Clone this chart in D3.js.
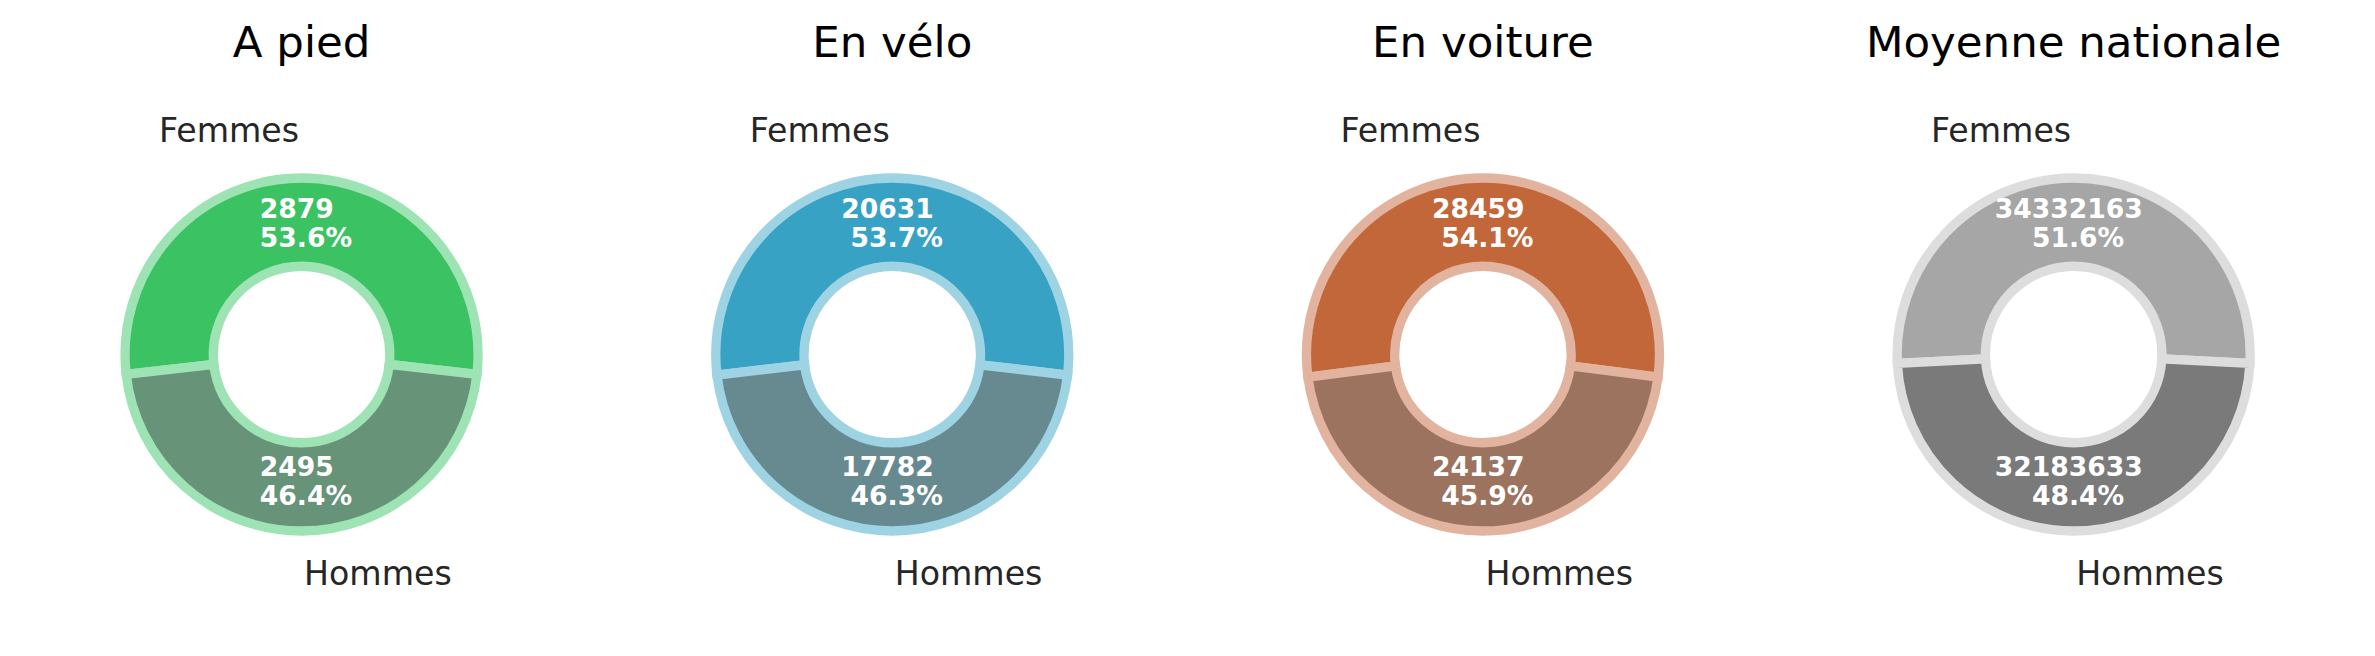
<!DOCTYPE html>
<html>
<head>
<meta charset="utf-8">
<script src="https://cdn.jsdelivr.net/npm/d3@7"></script>
<style>
  html, body { margin: 0; padding: 0; background: #fff; }
  svg { display: block; font-family: "DejaVu Sans", sans-serif; }
</style>
</head>
<body>
<svg id="chart" width="2375" height="656"></svg>
<script>
// ---- data ----
const modes   = ['A pied', 'En vélo', 'En voiture', 'Moyenne nationale'];
const genders = ['Femmes', 'Hommes'];
const femmes  = [2879, 20631, 28459, 34332163];
const hommes  = [2495, 17782, 24137, 32183633];

// colours per panel: [femmes, hommes, edge]
const fillF = ['#3bc262', '#37a2c4', '#c2673a', '#a6a6a6'];
const fillH = ['#679378', '#678a91', '#9b735f', '#7a7a7a'];
const edges = ['#9ee3b4', '#9ed3e3', '#e2b39e', '#dddddd'];

// ---- layout ----
const W = 2375, H = 656;
const cy = 354.5, R = 176.5, lw = 9.3;
const x = d3.scaleBand().domain(modes).range([6.2, 2369]).padding(0);

const svg = d3.select('#chart');

const arc = d3.arc().innerRadius(R * 0.5).outerRadius(R);
const pctArc = d3.arc().innerRadius(R * 0.732).outerRadius(R * 0.732);
const lblArc = d3.arc().innerRadius(R * 1.255).outerRadius(R * 1.255);

modes.forEach((mode, i) => {
  const vals = [femmes[i], hommes[i]];
  const total = d3.sum(vals);
  const f = vals[0] / total;
  // femmes wedge centred on top
  const pie = d3.pie().sort(null)
    .startAngle(-Math.PI * f)
    .endAngle(2 * Math.PI - Math.PI * f);
  const arcs = pie(vals);

  const cx = x(mode) + x.bandwidth() / 2;
  const g = svg.append('g').attr('transform', `translate(${cx},${cy})`);

  // title
  svg.append('text')
    .attr('x', cx).attr('y', 56.7)
    .attr('text-anchor', 'middle')
    .attr('font-size', 43.5)
    .attr('fill', '#000')
    .text(mode);

  g.selectAll('path').data(arcs).enter().append('path')
    .attr('d', arc)
    .attr('fill', (d, j) => j === 0 ? fillF[i] : fillH[i])
    .attr('stroke', edges[i])
    .attr('stroke-width', lw)
    .attr('stroke-linejoin', 'miter');

  // value + percent labels
  arcs.forEach((d, j) => {
    const [px, py] = pctArc.centroid(d);
    const t = g.append('text')
      .attr('font-size', 26.6)
      .attr('font-weight', 'bold')
      .attr('fill', '#fff')
      .attr('text-anchor', 'middle');
    t.append('tspan').attr('x', px - 4.8).attr('y', py - 7.6)
      .text(vals[j]);
    t.append('tspan').attr('x', px + 4.4).attr('y', py - 7.6 + 29)
      .text((vals[j] / total * 100).toFixed(1) + '%');

    const [lx, ly] = lblArc.centroid(d);
    g.append('text')
      .attr('x', j === 0 ? lx - 2.5 : lx + 2.5)
      .attr('y', ly + 8.6)
      .attr('text-anchor', j === 0 ? 'end' : 'start')
      .attr('font-size', 33.2)
      .attr('fill', '#262626')
      .text(genders[j]);
  });
});
</script>
</body>
</html>
